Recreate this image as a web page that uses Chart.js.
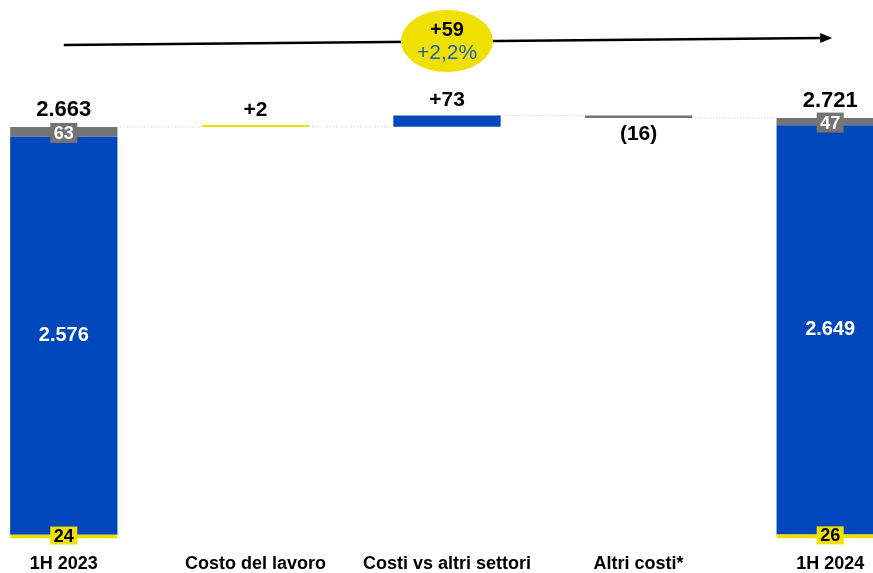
<!DOCTYPE html>
<html>
<head>
<meta charset="utf-8">
<script src="https://cdn.jsdelivr.net/npm/chart.js@4"></script>
<style>
  html, body { margin: 0; padding: 0; background: #fff; overflow: hidden; width: 873px; height: 573px; }
  #wrap { position: absolute; left: -32px; top: 0; width: 958px; height: 573px; }
</style>
</head>
<body>
<div id="wrap"><canvas id="chart"></canvas></div>
<script>
const categories = ["1H 2023", "Costo del lavoro", "Costi vs altri settori", "Altri costi*", "1H 2024"];
const yellowValues = [24, 2, null, null, 26];
const blueValues = [2576, null, 73, null, 2649];
const greyValues = [63, null, null, -16, 47];
const totals = [2663, null, null, null, 2721];
const deltaAbs = "+59";
const deltaPct = "+2,2%";

const BLUE = "#0047BB";
const GREY = "#747474";
const YELLOW = "#F0E000";
const FONT = "Arial, 'Liberation Sans', sans-serif";

function fmt(n) {
  return Math.abs(n).toString().replace(/\B(?=(\d{3})+(?!\d))/g, ".");
}

// costruisce i range flottanti del waterfall
const yRanges = [], bRanges = [], gRanges = [], levels = [];
let running = 0;
categories.forEach((c, i) => {
  if (totals[i] !== null) {
    const y1 = yellowValues[i];
    const b1 = y1 + blueValues[i];
    const g1 = b1 + greyValues[i];
    yRanges.push([0, y1]);
    bRanges.push([y1, b1]);
    gRanges.push([b1, g1]);
    running = totals[i];
  } else {
    const step = (v) => v !== null ? [running, running + v] : null;
    yRanges.push(step(yellowValues[i]));
    bRanges.push(step(blueValues[i]));
    gRanges.push(step(greyValues[i]));
    running += (yellowValues[i] ?? 0) + (blueValues[i] ?? 0) + (greyValues[i] ?? 0);
  }
  levels.push(running);
});

const labelsPlugin = {
  id: "labels",
  afterDatasetsDraw(chart) {
    const ctx = chart.ctx;
    const metas = [0, 1, 2].map(d => chart.getDatasetMeta(d).data);
    ctx.save();
    ctx.textAlign = "center";

    // linee tratteggiate di collegamento
    ctx.strokeStyle = "#c8c8c8";
    ctx.lineWidth = 1;
    ctx.setLineDash([1, 2]);
    for (let i = 0; i < categories.length - 1; i++) {
      const w = metas[1][i].width;
      const y = chart.scales.y.getPixelForValue(levels[i]);
      ctx.beginPath();
      ctx.moveTo(metas[1][i].x + w / 2, y);
      ctx.lineTo(metas[1][i + 1].x - w / 2, y);
      ctx.stroke();
    }
    ctx.setLineDash([]);

    categories.forEach((c, i) => {
      if (totals[i] !== null) {
        const yb = metas[0][i], bb = metas[1][i], gb = metas[2][i];
        // valore interno blu
        ctx.fillStyle = "#fff";
        ctx.font = "bold 20px " + FONT;
        ctx.textBaseline = "middle";
        ctx.fillText(fmt(blueValues[i]), bb.x, (bb.y + bb.base) / 2);
        // box grigio
        ctx.font = "bold 18px " + FONT;
        let t = fmt(greyValues[i]);
        let tw = ctx.measureText(t).width + 7;
        let cy = (gb.y + gb.base) / 2 + 1;
        ctx.fillStyle = GREY;
        ctx.fillRect(gb.x - tw / 2, cy - 10, tw, 20);
        ctx.fillStyle = "#fff";
        ctx.fillText(t, gb.x, cy + 1);
        // box giallo
        t = fmt(yellowValues[i]);
        tw = ctx.measureText(t).width + 7;
        cy = (yb.y + yb.base) / 2 - 1;
        ctx.fillStyle = YELLOW;
        ctx.fillRect(yb.x - tw / 2, cy - 9, tw, 18);
        ctx.fillStyle = "#000";
        ctx.fillText(t, yb.x, cy + 1);
        // totale
        ctx.font = "bold 22px " + FONT;
        ctx.textBaseline = "alphabetic";
        ctx.fillText(fmt(totals[i]), gb.x, gb.y - 11);
      } else {
        const d = yellowValues[i] ?? blueValues[i] ?? greyValues[i];
        const ds = yellowValues[i] !== null ? 0 : (blueValues[i] !== null ? 1 : 2);
        const el = metas[ds][i];
        ctx.fillStyle = "#000";
        ctx.font = "bold 21px " + FONT;
        if (d >= 0) {
          ctx.textBaseline = "alphabetic";
          ctx.fillText("+" + fmt(d), el.x, Math.min(el.y, el.base) - 9);
        } else {
          ctx.textBaseline = "top";
          ctx.fillText("(" + fmt(d) + ")", el.x, Math.max(el.y, el.base) + 6);
        }
      }
    });
    ctx.restore();
  },
  afterDraw(chart) {
    const ctx = chart.ctx;
    const xs = chart.scales.x;
    const top = chart.chartArea.top;
    const x0 = xs.getPixelForValue(0);
    const x1 = xs.getPixelForValue(categories.length - 1) + 2;
    const y0 = top - 30, y1 = top - 37;
    ctx.save();
    // freccia
    ctx.strokeStyle = "#000";
    ctx.lineWidth = 2.5;
    ctx.beginPath();
    ctx.moveTo(x0, y0);
    ctx.lineTo(x1 - 10, y1 + 0.1);
    ctx.stroke();
    const ang = Math.atan2(y1 - y0, x1 - x0);
    ctx.fillStyle = "#000";
    ctx.beginPath();
    ctx.moveTo(x1, y1);
    ctx.lineTo(x1 - 12 * Math.cos(ang) + 5 * Math.sin(ang), y1 - 12 * Math.sin(ang) - 5 * Math.cos(ang));
    ctx.lineTo(x1 - 12 * Math.cos(ang) - 5 * Math.sin(ang), y1 - 12 * Math.sin(ang) + 5 * Math.cos(ang));
    ctx.closePath();
    ctx.fill();
    // ellisse
    const cx = xs.getPixelForValue(2);
    const cy = top - 34;
    ctx.fillStyle = YELLOW;
    ctx.beginPath();
    ctx.ellipse(cx, cy, 46, 31, 0, 0, Math.PI * 2);
    ctx.fill();
    ctx.textAlign = "center";
    ctx.textBaseline = "middle";
    ctx.fillStyle = "#000";
    ctx.font = "bold 20px " + FONT;
    ctx.fillText(deltaAbs, cx, cy - 11);
    ctx.fillStyle = "#1F5FBF";
    ctx.font = "21px " + FONT;
    ctx.fillText(deltaPct, cx, cy + 12);
    ctx.restore();
  }
};

new Chart(document.getElementById("chart"), {
  type: "bar",
  data: {
    labels: categories,
    datasets: [
      { label: "giallo", data: yRanges, backgroundColor: YELLOW, minBarLength: 2 },
      { label: "blu", data: bRanges, backgroundColor: BLUE },
      { label: "grigio", data: gRanges, backgroundColor: GREY, minBarLength: 2 }
    ]
  },
  options: {
    responsive: true,
    maintainAspectRatio: false,
    animation: false,
    layout: { padding: { top: 75, bottom: -17, left: 0, right: 0 } },
    datasets: { bar: { barPercentage: 0.56, categoryPercentage: 1 } },
    plugins: { legend: { display: false }, tooltip: { enabled: false } },
    scales: {
      x: {
        stacked: true,
        grid: { display: false, drawTicks: false },
        border: { display: false },
        ticks: { color: "#000", font: { family: FONT, size: 18, weight: "bold" }, padding: 15 }
      },
      y: {
        display: false,
        min: 0,
        max: 3000
      }
    }
  },
  plugins: [labelsPlugin]
});
</script>
</body>
</html>
